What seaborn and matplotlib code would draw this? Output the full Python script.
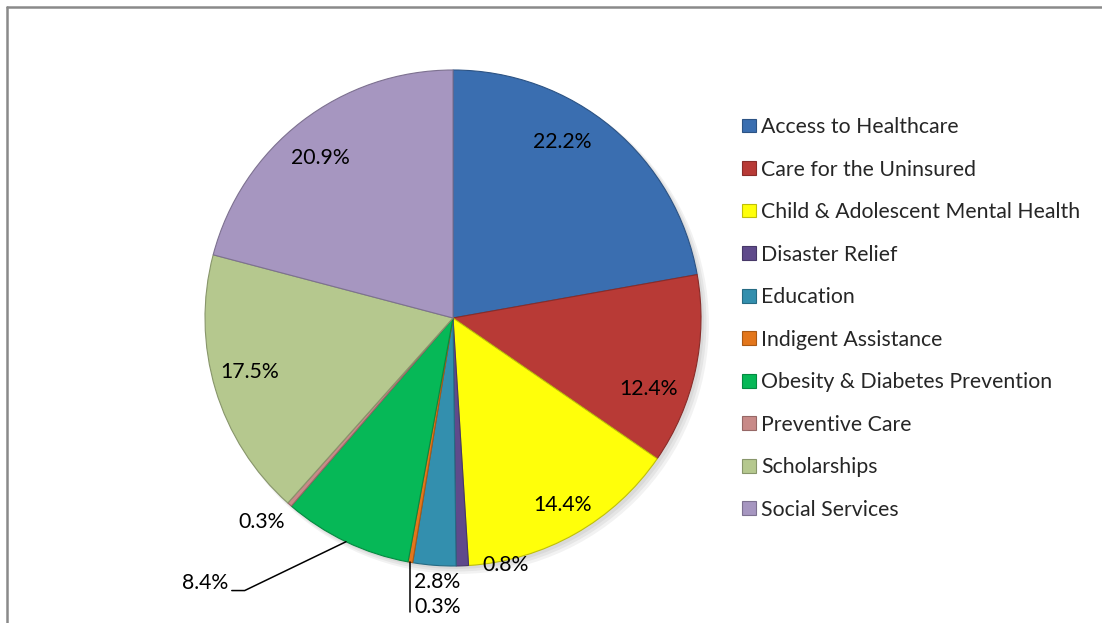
import numpy as np
import matplotlib
matplotlib.use("Agg")
import matplotlib.pyplot as plt
from matplotlib.lines import Line2D
import seaborn as sns

# ---- data ----
categories = [
    "Access to Healthcare",
    "Care for the Uninsured",
    "Child & Adolescent Mental Health",
    "Disaster Relief",
    "Education",
    "Indigent Assistance",
    "Obesity & Diabetes Prevention",
    "Preventive Care",
    "Scholarships",
    "Social Services",
]
shares = [22.2, 12.4, 14.4, 0.8, 2.8, 0.3, 8.4, 0.3, 17.5, 20.9]
pct_labels = ["22.2%", "12.4%", "14.4%", "0.8%", "2.8%", "0.3%", "8.4%", "0.3%", "17.5%", "20.9%"]

# ---- style ----
slice_colors = ["#3A6EB0", "#B83A36", "#FFFF0A", "#5F4A8B", "#338FAE",
                "#E3761B", "#06B857", "#C88A88", "#B5C88E", "#A696C0"]
# label placement in units of pie radius (x, y)
label_pos = [(0.44, 0.71), (0.79, -0.286), (0.44, -0.754), (0.21, -0.996),
             (-0.157, -1.065), (-0.157, -1.165), (-1.0, -1.069), (-0.77, -0.823),
             (-0.82, -0.218), (-0.536, 0.645)]
left_aligned = {"Education", "Indigent Assistance"}

sns.set_theme(style="white")
plt.rcParams["font.family"] = ["Lato", "DejaVu Sans"]
FS = 15.3

W, H, DPI = 1102, 623, 100
fig = plt.figure(figsize=(W / DPI, H / DPI), dpi=DPI)
fig.patch.set_facecolor("white")
ax = fig.add_axes([0, 0, 1, 1])

cx, cy, R = 453, 318, 248  # pixel layout of the pie
palette = sns.color_palette(slice_colors)
edge = [tuple(np.clip(np.array(c) * 0.75, 0, 1)) for c in palette]

# soft shadow behind the pie
for k, a in enumerate([0.05, 0.05, 0.05]):
    ax.add_patch(plt.Circle((0.012 + 0.006 * k, -0.012 - 0.006 * k), 1.0 + 0.004 * k,
                            color="black", alpha=a, lw=0, zorder=0))

wedges, _ = ax.pie(shares, colors=palette, startangle=90, counterclock=False,
                   radius=1.0, center=(0, 0),
                   wedgeprops=dict(linewidth=0.8))
for w, e in zip(wedges, edge):
    w.set_edgecolor(e)
    w.set_zorder(2)

ax.set_xlim(-cx / R, (W - cx) / R)
ax.set_ylim(-(H - cy) / R, cy / R)
ax.set_aspect("equal")
ax.axis("off")

# labels
cum = np.cumsum([0] + shares[:-1])
for i, (txt, (lx, ly)) in enumerate(zip(pct_labels, label_pos)):
    mid = (cum[i] + shares[i] / 2) / 100 * 2 * np.pi
    px, py = np.sin(mid), np.cos(mid)
    if categories[i] == "Indigent Assistance":
        ax.add_line(Line2D([px, px], [py, ly - 0.02], color="black", lw=1.1, zorder=3))
    elif categories[i] == "Obesity & Diabetes Prevention":
        ex = lx + 0.16
        ax.add_line(Line2D([px, ex, ex - 0.052], [py, ly - 0.03, ly - 0.03],
                           color="black", lw=1.1, zorder=3))
    ha = "left" if categories[i] in left_aligned else "center"
    ax.text(lx, ly, txt, ha=ha, va="center", fontsize=FS, color="black", zorder=4)

# legend
leg = ax.legend(wedges, categories, loc="upper left",
                bbox_to_anchor=(742 / W, 1 - 117 / H), bbox_transform=fig.transFigure,
                frameon=False, fontsize=FS, handlelength=0.66, handleheight=0.62,
                handletextpad=0.25, labelspacing=1.06, borderaxespad=0, borderpad=0)

# outer frame (left and top edges visible)
fc = "#8A8A8A"
fig.add_artist(Line2D([6.5 / W, 6.5 / W], [0, 1 - 7 / H], transform=fig.transFigure, color=fc, lw=1.8))
fig.add_artist(Line2D([6.5 / W, 1], [1 - 7 / H, 1 - 7 / H], transform=fig.transFigure, color=fc, lw=1.8))

fig.savefig("out.png", dpi=DPI, facecolor="white")
